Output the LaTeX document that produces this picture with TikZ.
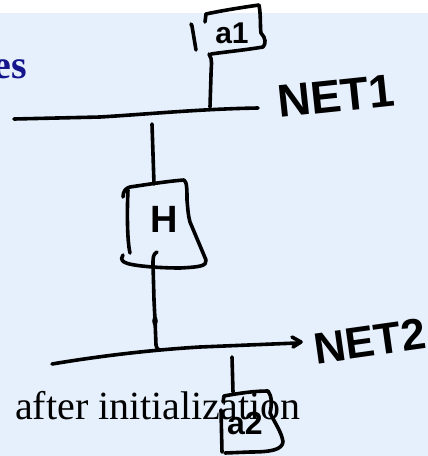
\documentclass[tikz,border=0pt]{standalone}
\usepackage{fontspec}
\setmainfont{Liberation Serif}
\newfontfamily\handfont{Liberation Sans}
\definecolor{bgblue}{RGB}{230,240,253}
\definecolor{titleblue}{RGB}{20,20,140}
\begin{document}
\begin{tikzpicture}[x=1pt,y=-1pt,
  ink/.style={line width=3.6pt, line cap=round, line join=round},
  hand/.style={font=\handfont\bfseries, inner sep=0pt}]
\useasboundingbox (0,0) rectangle (428,456);
\fill[white] (0,0) rectangle (428,456);
\fill[bgblue] (0,13) rectangle (428,456);
\begin{scope}
\clip (0,0) rectangle (428,456);
\node[anchor=base east, font=\fontsize{40}{48}\selectfont\bfseries, text=titleblue, inner sep=0pt] (title) at (27,78) {es};
\node[anchor=base west, font=\fontsize{40}{48}\selectfont, inner sep=0pt] (caption) at (15,419) {after initialization};
\end{scope}

% named points
\coordinate (a1b) at (209,54);
\coordinate (n1a) at (210,107);
\coordinate (n1b) at (152,124);
\coordinate (ht) at (154,184);
\coordinate (hb) at (157,252);
\coordinate (n2a) at (160,350);
\coordinate (n2b) at (232,357);
\coordinate (a2t) at (233,392);

% a1 box
\draw[ink] (205,22) -- (206,14) .. controls (225,10) and (245,7) .. (259,5)
  .. controls (261,15) and (260,28) .. (261,33)
  .. controls (266,38) and (266,44) .. (263,47)
  .. controls (245,50) and (225,52) .. (211,54);
\draw[ink] (191,24) -- (192,26) -- (196,50);
\node[hand, font=\handfont\bfseries\fontsize{30}{34}\selectfont] (a1) at (232,33) {a1};

% a1 to NET1
\draw[ink] (a1b) .. controls (213,60) and (211,65) .. (211,75) -- (n1a);

% NET1 line
\draw[ink] (14,119) -- (100,117) .. controls (150,114) and (200,109) .. (258,108);
\node[hand, rotate=6, font=\handfont\bfseries\fontsize{46}{50}\selectfont] (net1) at (336,96) {NET1};

% NET1 to H
\draw[ink] (n1b) -- (ht);

% H box
\draw[ink] (123,197) .. controls (123,191) and (126,188) .. (130,187)
  .. controls (150,184) and (170,181) .. (184,180)
  .. controls (187,182) and (187,190) .. (187,200)
  .. controls (188,210) and (188,215) .. (190,222) -- (206,260)
  .. controls (207,266) and (200,267) .. (180,268)
  .. controls (160,268) and (130,266) .. (124,262)
  .. controls (121,260) and (121,257) .. (123,255);
\draw[ink] (128,190) .. controls (127,210) and (127,240) .. (130,253);
\node[hand, font=\handfont\bfseries\fontsize{38}{42}\selectfont] (H) at (164,219) {H};

% H to NET2
\draw[ink] (hb) .. controls (153,254) and (153,258) .. (153,264) -- (154,300) -- (155,320) -- (156,345) .. controls (157,349) and (158,350) .. (n2a);
\fill (155,321) ellipse (2.8 and 5);

% NET2 line
\draw[ink] (52,364) .. controls (100,356) and (150,350) .. (200,347) -- (297,343);
\draw[ink] (292,337) -- (301,342) -- (293,347);
\node[hand, rotate=8, font=\handfont\bfseries\fontsize{44}{48}\selectfont] (net2) at (370,341) {NET2};

% NET2 to a2
\draw[ink] (n2b) -- (a2t);

% a2 box
\draw[ink] (223,402) -- (224,396) .. controls (240,393) and (255,391) .. (268,391)
  .. controls (272,396) and (272,405) .. (270,413)
  .. controls (275,423) and (282,433) .. (283,442)
  .. controls (282,450) and (270,452) .. (250,452) -- (225,453);
\draw[ink] (221,410) -- (222,452);
\node[hand, font=\handfont\bfseries\fontsize{32}{36}\selectfont] (a2) at (245,423) {a2};
\end{tikzpicture}
\end{document}
